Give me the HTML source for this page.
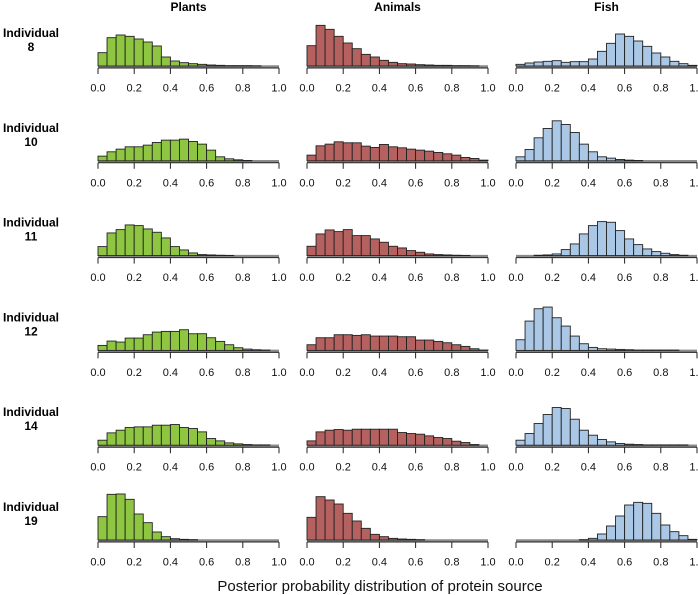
<!DOCTYPE html>
<html><head><meta charset="utf-8"><style>
html,body{margin:0;padding:0;background:#fff;}
svg{display:block;font-family:"Liberation Sans",sans-serif;}
</style></head><body>
<svg id="chart" width="698" height="595" viewBox="0 0 698 595"></svg>
<script>
const individuals = ["8","10","11","12","14","19"];
const sources = ["Plants","Animals","Fish"];
const binEdges = [0,0.05,0.1,0.15,0.2,0.25,0.3,0.35,0.4,0.45,0.5,0.55,0.6,0.65,0.7,0.75,0.8,0.85,0.9,0.95,1.0];
const tickValues = [0,0.2,0.4,0.6,0.8,1.0];
const tickLabels = ["0.0","0.2","0.4","0.6","0.8","1.0"];
const plants8  = [40,85,93,89,81,72,60,27,15,10,7,5,3,2,1,1,1,0.5,0,0];
const animals8 = [61,122,110,89,69,52,35,27,17,11,7,6,4,3,2,2,1,1,0.5,0];
const fish8    = [5,9,12,14,16,11,13,13,21,44,68,96,89,75,59,39,27,14,7,2];
const plants10  = [14,27,35,42,42,47,55,62,62,65,58,50,32,12,6,3,1,0,0,0];
const animals10 = [17,45,50,57,54,54,44,40,49,42,39,35,32,29,25,21,17,10,7,2];
const fish10    = [12,34,69,97,120,109,85,50,27,12,8,4,2,1,0,0,0,0,0,0];
const plants11  = [27,68,78,92,90,80,70,53,27,17,8,3,2,1,0.5,0,0,0,0,0];
const animals11 = [28,65,77,72,78,60,60,50,40,28,23,15,10,5,3,2,1,0.5,0,0];
const fish11    = [0,0,1,2,5,18,35,65,90,102,100,75,50,33,20,12,7,3,1,0];
const plants12  = [15,28,25,37,37,47,55,57,57,62,50,50,38,27,17,8,4,2,1,0];
const animals12 = [17,38,38,47,47,45,47,43,43,43,41,41,31,31,27,23,17,12,5,1];
const fish12    = [32,88,125,130,98,73,43,20,9,5,4,3,2,1,1,1,1,1,0,0];
const plants14  = [15,37,45,53,55,55,60,60,62,53,50,40,20,13,7,4,2,1,1,0];
const animals14 = [13,40,45,47,45,48,48,48,48,48,38,35,33,28,23,20,12,8,2,0];
const fish14    = [15,35,65,92,113,110,78,45,30,17,10,5,3,2,1,1,1,1,1,0];
const plants19  = [70,137,138,122,78,52,24,10,4,2,1,0,0,0,0,0,0,0,0,0];
const animals19 = [68,130,120,108,80,57,35,17,10,5,3,2,1,0,0,0,0,0,0,0];
const fish19    = [0,0,0,0,0,0,0,1,5,18,42,72,105,113,110,80,45,25,13,2];

const series = [
  [plants8,animals8,fish8],[plants10,animals10,fish10],[plants11,animals11,fish11],
  [plants12,animals12,fish12],[plants14,animals14,fish14],[plants19,animals19,fish19]
];
const colors = ["#8fc641","#b5615f","#aac7e6"];
const colX0 = [98,307,516], plotW = 181;
const rowBase0 = 66, rowPitch = 94.8, yScale = 1/3;
const NS = "http://www.w3.org/2000/svg";
const svg = document.getElementById("chart");
function mk(tag, attrs, parent){
  const e = document.createElementNS(NS, tag);
  for (const k in attrs) e.setAttribute(k, attrs[k]);
  (parent||svg).appendChild(e); return e;
}
function xs(c, v){ return colX0[c] + v*plotW; }
function yh(v){ return v*yScale; }

sources.forEach((s,c)=>{
  const t = mk("text",{x:xs(c,0.5),y:11,"text-anchor":"middle","font-size":"12","font-weight":"bold"});
  
  
  t.textContent = s;
});

individuals.forEach((ind,r)=>{
  const base = rowBase0 + r*rowPitch;
  const g = mk("g",{});
  
  
  const l1 = mk("text",{x:31,y:base-29,"text-anchor":"middle","font-size":"12","font-weight":"bold"},g);
  
  
  l1.textContent = "Individual";
  const l2 = mk("text",{x:31,y:base-15,"text-anchor":"middle","font-size":"12","font-weight":"bold"},g);
  
  
  l2.textContent = ind;
  sources.forEach((s,c)=>{
    const pg = mk("g",{},g);
    
    
    const bl = mk("line",{x1:xs(c,0),x2:xs(c,1),y1:base+0.5,y2:base+0.5,stroke:"#8a8a8a","stroke-width":2.5},pg);
    
    
    const vals = series[r][c];
    vals.forEach((v,i)=>{
      if (v <= 0) return;
      const x0 = xs(c,binEdges[i]), x1 = xs(c,binEdges[i+1]);
      const h = yh(v);
      const b = mk("rect",{x:x0,y:base-h,width:x1-x0,height:h,fill:colors[c],stroke:"#222","stroke-width":0.9},pg);
      
      
    });
    const ax = mk("line",{x1:xs(c,0),x2:xs(c,1),y1:base+2,y2:base+2,stroke:"#222","stroke-width":1},pg);
    
    
    tickValues.forEach((tv,k)=>{
      const tk = mk("line",{x1:xs(c,tv),x2:xs(c,tv),y1:base+2,y2:base+8,stroke:"#222","stroke-width":1},pg);
      
      
      const tl = mk("text",{x:xs(c,tv),y:base+25.5,"text-anchor":"middle","font-size":"11",fill:"#111"},pg);
      
      
      tl.textContent = tickLabels[k];
    });
  });
});

const xt = mk("text",{x:380,y:591,"text-anchor":"middle","font-size":"15",fill:"#111"});


xt.textContent = "Posterior probability distribution of protein source";
</script>
</body></html>
